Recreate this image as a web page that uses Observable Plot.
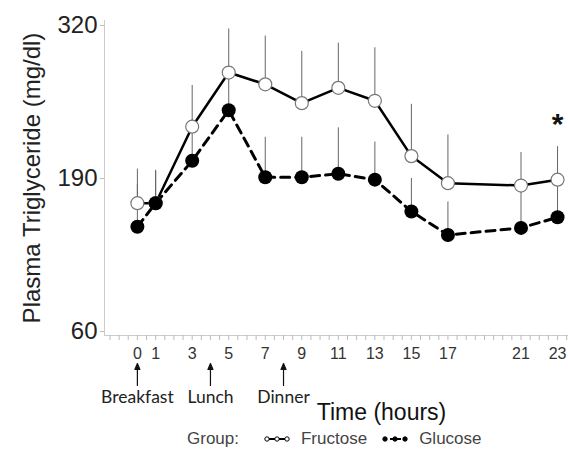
<!DOCTYPE html>
<html><head><meta charset="utf-8">
<script src="https://cdn.jsdelivr.net/npm/d3@7"></script>
<script src="https://cdn.jsdelivr.net/npm/@observablehq/plot@0.6"></script>
<style>
body{margin:0;background:#fff;font-family:"Liberation Sans",Arial,sans-serif}
#legend{display:flex;align-items:center;height:37px;padding-left:187px;font-size:17px;color:#444}
</style>
</head><body><div id="chart"></div><div id="legend"></div><script>
const hours = [0, 1, 3, 5, 7, 9, 11, 13, 15, 17, 21, 23];
const fructose = [169, 169, 234, 280, 270, 254, 267, 256, 209, 186, 184, 189];
const fructoseUpper = [198, 197, 269, 317, 311, 298, 305, 301, 253, 227, 212, 217];
const glucose = [149, 169, 205, 248, 191, 191, 194, 189, 162, 142, 148, 157];
const glucoseUpper = [185, 196, 240, 285, 225, 225, 233, 221, 190, 170, 184, 188];
const mealTimes = [0, 4, 8];
const mealLabels = ["Breakfast", "Lunch", "Dinner"];
const yTicks = [60, 190, 320];
const xTicks = [0, 1, 3, 5, 7, 9, 11, 13, 15, 17, 21, 23];
const minorTicks = d3.range(-1.5, 23.6, 0.5);
const sigHour = [23];

const fr = hours.map((t, i) => ({t, y: fructose[i], hi: fructoseUpper[i]}));
const gl = hours.map((t, i) => ({t, y: glucose[i], hi: glucoseUpper[i]}));
const meals = mealTimes.map((t, i) => ({t, label: mealLabels[i]}));
const sig = fr.filter(d => sigHour.includes(d.t));

const arrowShape = {
  draw(ctx, l, r) {
    ctx.moveTo(0, 0);
    ctx.lineTo(0, -l + 4);
    ctx.moveTo(-r, -l + 6);
    ctx.lineTo(0, -l);
    ctx.lineTo(r, -l + 6);
    ctx.closePath();
  }
};

const chart = Plot.plot({
  width: 568, height: 420,
  marginLeft: 104, marginRight: 0, marginTop: 20, marginBottom: 85,
  style: {fontFamily: "Liberation Sans, Arial, sans-serif", overflow: "visible"},
  x: {domain: [-1.8, 23.6]},
  y: {domain: [56.6, 324.2]},
  marks: [
    Plot.frame({anchor: "left", stroke: "#ccc"}),
    Plot.frame({anchor: "bottom", stroke: "#ccc"}),
    Plot.axisY({ticks: yTicks, tickSize: 4, tickPadding: 3, fontSize: 24, color: "#222", stroke: "#bbb",
      label: "Plasma Triglyceride (mg/dl)", labelAnchor: "center", labelArrow: "none", labelOffset: 82}),
    Plot.axisX({ticks: minorTicks, tickSize: 5, tickFormat: () => "", stroke: "#bbb", label: null}),
    Plot.axisX({ticks: xTicks, tickSize: 0, tickPadding: 12, fontSize: 16, color: "#333", label: null}),
    Plot.ruleX(gl, {x: "t", y1: "y", y2: "hi", stroke: "#666", strokeWidth: 1}),
    Plot.ruleX(fr, {x: "t", y1: "y", y2: "hi", stroke: "#666", strokeWidth: 1}),
    Plot.line(gl, {x: "t", y: "y", stroke: "#000", strokeWidth: 3, strokeDasharray: "9,6"}),
    Plot.line(fr, {x: "t", y: "y", stroke: "#000", strokeWidth: 2.5}),
    Plot.dot(fr, {x: "t", y: "y", r: 6.5, fill: "white", stroke: "#777", strokeWidth: 1.2}),
    Plot.dot(gl, {x: "t", y: "y", r: 7, fill: "#000", stroke: "none"}),
    Plot.text(sig, {x: "t", y: "hi", text: () => "*", dy: -22, fontSize: 30, fontWeight: "bold", fill: "#111"}),
    Plot.vector(meals, {x: "t", frameAnchor: "bottom", dy: 50, length: 22, anchor: "start", shape: arrowShape, r: 2.5, stroke: "#111", fill: "#111", strokeWidth: 1.2}),
    Plot.text(meals, {x: "t", frameAnchor: "bottom", lineAnchor: "middle", dy: 62, text: "label", fontSize: 17.5, fill: "#222", fontFamily: "Lato, 'Open Sans', sans-serif"}),
    Plot.text(["Time (hours)"], {frameAnchor: "bottom", lineAnchor: "middle", dx: 45, dy: 77, text: d => d, fontSize: 23, fill: "#111"})
  ]
});
document.getElementById("chart").appendChild(chart);

const legendItems = [
  {name: "Fructose", dash: null, fill: "white", gap: 15},
  {name: "Glucose", dash: "4,3", fill: "#000", gap: 0}
];
const lg = document.getElementById("legend");
const g = document.createElement("span");
g.textContent = "Group:";
g.style.marginRight = "25px";
lg.appendChild(g);
for (const it of legendItems) {
  const s = d3.create("svg").attr("width", 26).attr("height", 12).style("margin-right", "11px");
  s.append("line").attr("x1", 1).attr("x2", 25).attr("y1", 6).attr("y2", 6)
    .attr("stroke", "#000").attr("stroke-width", 2).attr("stroke-dasharray", it.dash);
  for (const cx of [3, 13, 23]) s.append("circle").attr("cx", cx).attr("cy", 6).attr("r", 2.2)
    .attr("fill", it.fill).attr("stroke", "#000").attr("stroke-width", 1);
  lg.appendChild(s.node());
  const t = document.createElement("span");
  t.textContent = it.name;
  t.style.marginRight = it.gap + "px";
  lg.appendChild(t);
}
</script></body></html>
